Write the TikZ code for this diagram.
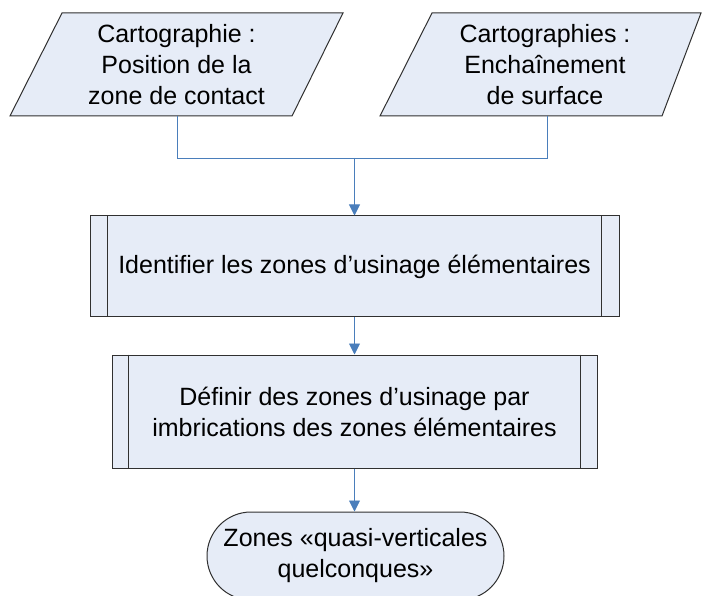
\documentclass[tikz,border=0pt]{standalone}
\usepackage{fontspec}
\setmainfont{Liberation Sans}
\usetikzlibrary{shapes.misc,arrows.meta}
\definecolor{boxfill}{HTML}{E6ECF7}
\definecolor{linkblue}{HTML}{4A7EBB}
\definecolor{edge}{HTML}{303030}
\tikzset{
  txt/.style={align=center,font=\fontsize{25}{31}\selectfont,inner sep=0pt},
  shapeline/.style={draw=edge,line width=1pt,fill=boxfill},
  procbox/.style={txt,shapeline,rectangle,minimum width=529pt,minimum height=101pt},
  innerline/.style={draw=edge,line width=1pt},
  termbox/.style={txt,shapeline,rounded rectangle,minimum width=297pt,minimum height=88pt},
  link/.style={draw=linkblue,line width=0.9pt},
  linkarrow/.style={link,-{Triangle[width=11pt,length=11pt]}}
}
\begin{document}
\begin{tikzpicture}[x=1pt,y=-1pt]
\useasboundingbox (0,0) rectangle (702,596);
\clip (0,0) rectangle (702,596);
% input parallelograms
\draw[shapeline] (62,13) -- (343,13) -- (292,116) -- (10,116) -- cycle;
\node[txt,minimum width=282pt,minimum height=103pt] (p1) at (176.5,64.5) {Cartographie :\\Position de la\\zone de contact};
\draw[shapeline] (432,13) -- (701,13) -- (662,116) -- (380,116) -- cycle;
\node[txt,minimum width=280pt,minimum height=103pt] (p2) at (545,64.5) {Cartographies :\\Enchaînement\\de surface};
% processes
\node[procbox] (b1) at (354.5,266.5) {Identifier les zones d’usinage élémentaires};
\draw[innerline] ([xshift=18pt]b1.north west) -- ([xshift=18pt]b1.south west);
\draw[innerline] ([xshift=-18pt]b1.north east) -- ([xshift=-18pt]b1.south east);
\node[procbox,minimum width=485pt,minimum height=113pt] (b2) at (354.5,411.5) {Définir des zones d’usinage par\\imbrications des zones élémentaires};
\draw[innerline] ([xshift=17pt]b2.north west) -- ([xshift=17pt]b2.south west);
\draw[innerline] ([xshift=-17pt]b2.north east) -- ([xshift=-17pt]b2.south east);
% terminal
\node[termbox] (t) at (355.5,556) {Zones «quasi-verticales\\quelconques»};
% connectors
\coordinate (j1) at (177,158);
\coordinate (j2) at (547,158);
\coordinate (jm) at (354.5,158);
\draw[link] (p1.south -| j1) -- (j1) -- (j2) -- (p2.south -| j2);
\draw[linkarrow] (jm) -- (b1.north);
\draw[linkarrow] (b1.south) -- (b2.north);
\draw[linkarrow] (b2.south) -- (b2.south |- t.north);
\end{tikzpicture}
\end{document}
